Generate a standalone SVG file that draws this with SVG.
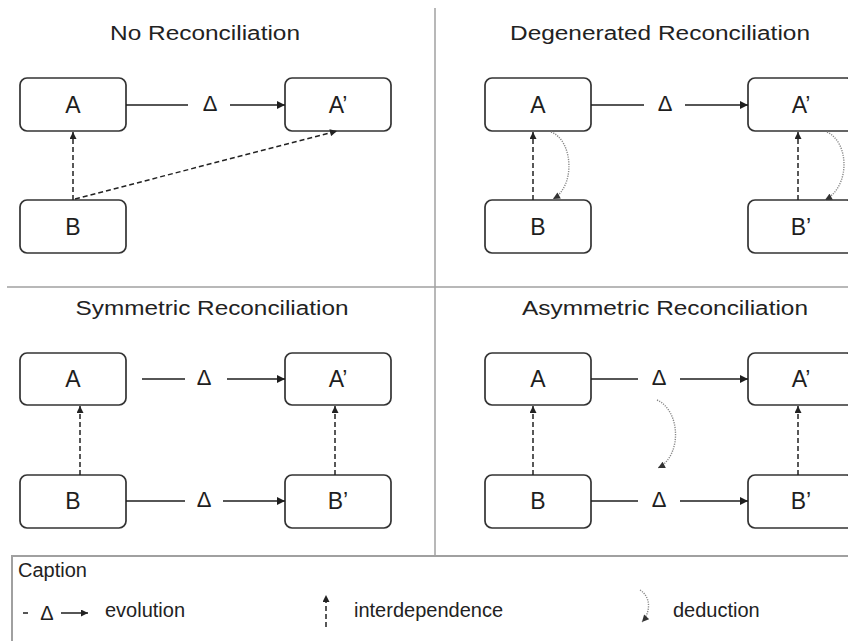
<svg xmlns="http://www.w3.org/2000/svg" width="848" height="641" viewBox="0 0 848 641">
<style>
.bg{fill:#ffffff}
.box{fill:#ffffff;stroke:#333;stroke-width:1.7}
.lbl{font-family:"Liberation Sans",Arial,sans-serif;font-size:23px;fill:#1e1e1e;text-anchor:middle}
.dl{font-family:"Liberation Sans",Arial,sans-serif;font-size:22px;fill:#1e1e1e;text-anchor:middle}
.ttl{font-family:"Liberation Sans",Arial,sans-serif;font-size:20px;fill:#222;text-anchor:middle}
.cap{font-family:"Liberation Sans",Arial,sans-serif;font-size:20px;fill:#222}
.evo{stroke:#1e1e1e;stroke-width:1.5;fill:none}
.dep{stroke:#222;stroke-width:1.5;stroke-dasharray:5 3;fill:none}
.ded{stroke:#888;stroke-width:1.4;stroke-dasharray:1.2 1.2;fill:none}
.div{stroke:#a0a0a0;stroke-width:1.5;fill:none}
</style>
<defs>
<marker id="arr" viewBox="0 0 10 10" refX="10" refY="5" markerWidth="10" markerHeight="8" markerUnits="userSpaceOnUse" orient="auto"><path d="M0,0 L10,5 L0,10 z" fill="#1e1e1e"/></marker>
<marker id="arrs" viewBox="0 0 10 10" refX="10" refY="5" markerWidth="8" markerHeight="7" markerUnits="userSpaceOnUse" orient="auto"><path d="M0,0 L10,5 L0,10 z" fill="#222"/></marker>
<marker id="arrd" viewBox="0 0 10 10" refX="10" refY="5" markerWidth="8" markerHeight="7" markerUnits="userSpaceOnUse" orient="auto"><path d="M0,0 L10,5 L0,10 z" fill="#333"/></marker>
</defs>
<rect class="bg" x="0" y="0" width="848" height="641"/>

<g id="dividers">
<line class="div" x1="435" y1="8" x2="435" y2="556"/>
<line class="div" x1="7" y1="287" x2="848" y2="287"/>
</g>

<g id="titles">
<text class="ttl" x="205" y="40" textLength="190" lengthAdjust="spacingAndGlyphs">No Reconciliation</text>
<text class="ttl" x="660" y="40" textLength="300" lengthAdjust="spacingAndGlyphs">Degenerated Reconciliation</text>
<text class="ttl" x="212" y="315" textLength="273" lengthAdjust="spacingAndGlyphs">Symmetric Reconciliation</text>
<text class="ttl" x="665" y="315" textLength="286" lengthAdjust="spacingAndGlyphs">Asymmetric Reconciliation</text>
</g>

<!-- Panel 1 -->
<g id="p1-A"><rect class="box" x="20" y="78" width="106" height="53" rx="7"/><text class="lbl" x="73" y="113">A</text></g>
<g id="p1-A2"><rect class="box" x="285" y="78" width="106" height="53" rx="7"/><text class="lbl" x="338" y="113">A’</text></g>
<g id="p1-B"><rect class="box" x="20" y="200" width="106" height="53" rx="7"/><text class="lbl" x="73" y="235">B</text></g>

<!-- Panel 2 -->
<g id="p2-A"><rect class="box" x="485" y="78" width="106" height="53" rx="7"/><text class="lbl" x="538" y="113">A</text></g>
<g id="p2-A2"><rect class="box" x="748" y="78" width="106" height="53" rx="7"/><text class="lbl" x="801" y="113">A’</text></g>
<g id="p2-B"><rect class="box" x="485" y="200" width="106" height="53" rx="7"/><text class="lbl" x="538" y="235">B</text></g>
<g id="p2-B2"><rect class="box" x="748" y="200" width="106" height="53" rx="7"/><text class="lbl" x="801" y="235">B’</text></g>

<!-- Panel 3 -->
<g id="p3-A"><rect class="box" x="20" y="353" width="106" height="52" rx="7"/><text class="lbl" x="73" y="387">A</text></g>
<g id="p3-A2"><rect class="box" x="285" y="353" width="106" height="52" rx="7"/><text class="lbl" x="338" y="387">A’</text></g>
<g id="p3-B"><rect class="box" x="20" y="475" width="106" height="53" rx="7"/><text class="lbl" x="73" y="509">B</text></g>
<g id="p3-B2"><rect class="box" x="285" y="475" width="106" height="53" rx="7"/><text class="lbl" x="338" y="509">B’</text></g>

<!-- Panel 4 -->
<g id="p4-A"><rect class="box" x="485" y="353" width="106" height="52" rx="7"/><text class="lbl" x="538" y="387">A</text></g>
<g id="p4-A2"><rect class="box" x="748" y="353" width="106" height="52" rx="7"/><text class="lbl" x="801" y="387">A’</text></g>
<g id="p4-B"><rect class="box" x="485" y="475" width="106" height="53" rx="7"/><text class="lbl" x="538" y="509">B</text></g>
<g id="p4-B2"><rect class="box" x="748" y="475" width="106" height="53" rx="7"/><text class="lbl" x="801" y="509">B’</text></g>

<g id="connectors">
<!-- panel 1 -->
<line class="evo" x1="126" y1="105" x2="188" y2="105"/>
<text class="dl" x="210" y="111">Δ</text>
<line class="evo" x1="230" y1="105" x2="285" y2="105" marker-end="url(#arr)"/>
<line class="dep" x1="73" y1="200" x2="73" y2="132" marker-end="url(#arrs)"/>
<line class="dep" x1="75" y1="199" x2="337" y2="131" marker-end="url(#arrs)"/>
<!-- panel 2 -->
<line class="evo" x1="591" y1="105" x2="644" y2="105"/>
<text class="dl" x="665" y="111">Δ</text>
<line class="evo" x1="685" y1="105" x2="748" y2="105" marker-end="url(#arr)"/>
<line class="dep" x1="533" y1="200" x2="533" y2="132" marker-end="url(#arrs)"/>
<line class="dep" x1="798" y1="200" x2="798" y2="132" marker-end="url(#arrs)"/>
<path class="ded" d="M551,132 C573,140 576,186 553,199" marker-end="url(#arrd)"/>
<path class="ded" d="M827,132 C849,142 851,186 825,200" marker-end="url(#arrd)"/>
<!-- panel 3 -->
<line class="evo" x1="142" y1="379" x2="185" y2="379"/>
<text class="dl" x="204" y="385">Δ</text>
<line class="evo" x1="227" y1="379" x2="285" y2="379" marker-end="url(#arr)"/>
<line class="evo" x1="126" y1="501" x2="185" y2="501"/>
<text class="dl" x="204" y="507">Δ</text>
<line class="evo" x1="223" y1="501" x2="285" y2="501" marker-end="url(#arr)"/>
<line class="dep" x1="80" y1="475" x2="80" y2="406" marker-end="url(#arrs)"/>
<line class="dep" x1="335" y1="475" x2="335" y2="406" marker-end="url(#arrs)"/>
<!-- panel 4 -->
<line class="evo" x1="591" y1="379" x2="638" y2="379"/>
<text class="dl" x="659" y="385">Δ</text>
<line class="evo" x1="680" y1="379" x2="748" y2="379" marker-end="url(#arr)"/>
<line class="evo" x1="591" y1="501" x2="638" y2="501"/>
<text class="dl" x="659" y="507">Δ</text>
<line class="evo" x1="680" y1="501" x2="748" y2="501" marker-end="url(#arr)"/>
<line class="dep" x1="533" y1="475" x2="533" y2="406" marker-end="url(#arrs)"/>
<line class="dep" x1="798" y1="475" x2="798" y2="406" marker-end="url(#arrs)"/>
<path class="ded" d="M657,400 C680,410 683,455 658,468" marker-end="url(#arrd)"/>
</g>

<g id="caption">
<rect x="12" y="556" width="850" height="100" fill="none" stroke="#a0a0a0" stroke-width="2"/>
<text class="cap" x="18" y="577">Caption</text>
<line class="evo" x1="23" y1="613" x2="28" y2="613"/>
<text class="cap" x="47" y="620" text-anchor="middle" font-size="18">Δ</text>
<line class="evo" x1="61" y1="613" x2="88" y2="613" marker-end="url(#arrs)"/>
<text class="cap" x="105" y="617">evolution</text>
<line class="dep" x1="326" y1="627" x2="326" y2="595" marker-end="url(#arrs)"/>
<text class="cap" x="354" y="617">interdependence</text>
<path class="ded" d="M640,590 C651,597 651,612 642,622" marker-end="url(#arrd)"/>
<text class="cap" x="673" y="617">deduction</text>
</g>
</svg>
